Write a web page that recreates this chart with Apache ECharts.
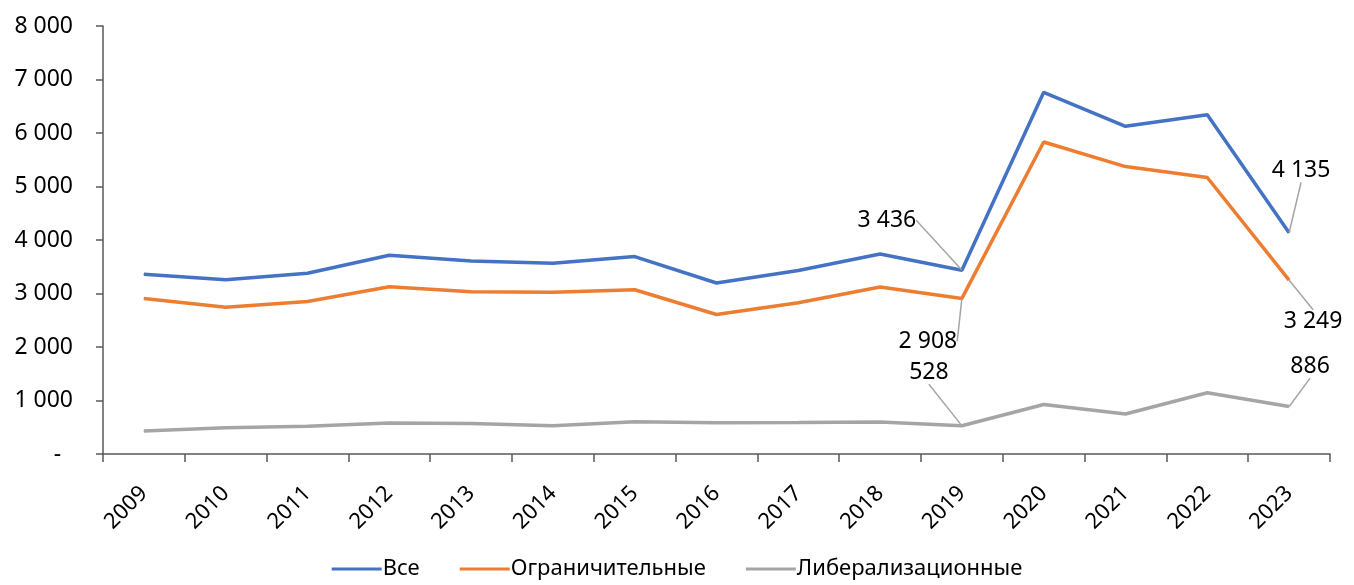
<!DOCTYPE html>
<html>
<head>
<meta charset="utf-8">
<script src="https://cdn.jsdelivr.net/npm/echarts@6/dist/echarts.min.js"></script>
<style>
html,body{margin:0;padding:0;background:#fff;}
#chart{width:1354px;height:585px;}
</style>
</head>
<body>
<div id="chart"></div>
<script>
const years = ['2009','2010','2011','2012','2013','2014','2015','2016','2017','2018','2019','2020','2021','2022','2023'];
const seriesNames = ['Все','Ограничительные','Либерализационные'];
const allValues = [3360, 3258, 3377, 3714, 3607, 3566, 3690, 3196, 3430, 3738, 3436, 6761, 6125, 6340, 4135];
const restrictiveValues = [2905, 2743, 2850, 3125, 3032, 3025, 3070, 2608, 2826, 3121, 2908, 5832, 5372, 5168, 3249];
const liberalValues = [430, 492, 518, 579, 572, 530, 602, 586, 590, 600, 528, 926, 748, 1145, 886];
const yTicks = [0, 1000, 2000, 3000, 4000, 5000, 6000, 7000, 8000];
const labelledIndices = [10, 14];

const colors = ['#4472C4', '#ED7D31', '#A5A5A5'];
const FONT = '"Noto Sans", "DejaVu Sans", sans-serif';

// label offsets (px) from the point, per series, per labelled index
const labelOffsets = [
  {10: [-75, -50], 14: [12, -62]},
  {10: [-34, 43], 14: [24, 41]},
  {10: [-33, -53], 14: [21, -40]}
];

function fmt(v){
  if (v === 0) return '-  ';
  return String(Math.round(v)).replace(/\B(?=(\d{3})+(?!\d))/g, ' ');
}

function buildData(values){
  return values.map((v, i) => {
    if (labelledIndices.indexOf(i) >= 0) {
      return {
        value: v,
        label: {show: true},
        labelLine: {show: true, lineStyle: {color: '#A5A5A5', width: 1.5}}
      };
    }
    return v;
  });
}

const valueSets = [allValues, restrictiveValues, liberalValues];

const chart = echarts.init(document.getElementById('chart'), null, {renderer: 'canvas'});
chart.setOption({
  animation: false,
  textStyle: {fontFamily: FONT},
  grid: {left: 103, right: 24, top: 26, bottom: 131, containLabel: false},
  legend: {
    top: 553,
    left: 'center',
    itemWidth: 50,
    itemHeight: 3,
    itemGap: 40,
    icon: 'rect',
    textStyle: {fontFamily: FONT, fontSize: 22, color: '#000', padding: [0,0,0,-4]},
    data: seriesNames
  },
  xAxis: {
    type: 'category',
    data: years,
    boundaryGap: true,
    axisLine: {show: true, lineStyle: {color: '#595959', width: 1.5}},
    axisTick: {show: true, length: 8, alignWithLabel: false, lineStyle: {color: '#595959', width: 1.5}},
    axisLabel: {rotate: 45, fontSize: 22, color: '#000', margin: 36, fontFamily: FONT, interval: 0}
  },
  yAxis: {
    type: 'value',
    min: yTicks[0],
    max: yTicks[yTicks.length - 1],
    interval: yTicks[1] - yTicks[0],
    splitLine: {show: false},
    axisLine: {show: true, lineStyle: {color: '#595959', width: 1.5}},
    axisTick: {show: true, length: 7, lineStyle: {color: '#595959', width: 1.5}},
    axisLabel: {fontSize: 23, color: '#000', margin: 30, fontFamily: FONT, formatter: fmt}
  },
  series: seriesNames.map((name, si) => ({
    name: name,
    type: 'line',
    data: buildData(valueSets[si]),
    symbol: 'circle',
    symbolSize: 1,
    showSymbol: true,
    itemStyle: {color: colors[si]},
    lineStyle: {color: colors[si], width: 3.5},
    emphasis: {disabled: true},
    label: {
      show: false,
      position: 'inside',
      fontSize: 23,
      color: '#000',
      fontFamily: FONT,
      formatter: p => fmt(p.value)
    },
    labelLine: {show: false},
    labelLayout: function(params){
      const o = labelOffsets[si][params.dataIndex];
      return o ? {dx: o[0], dy: o[1]} : {};
    }
  }))
});
</script>
</body>
</html>
